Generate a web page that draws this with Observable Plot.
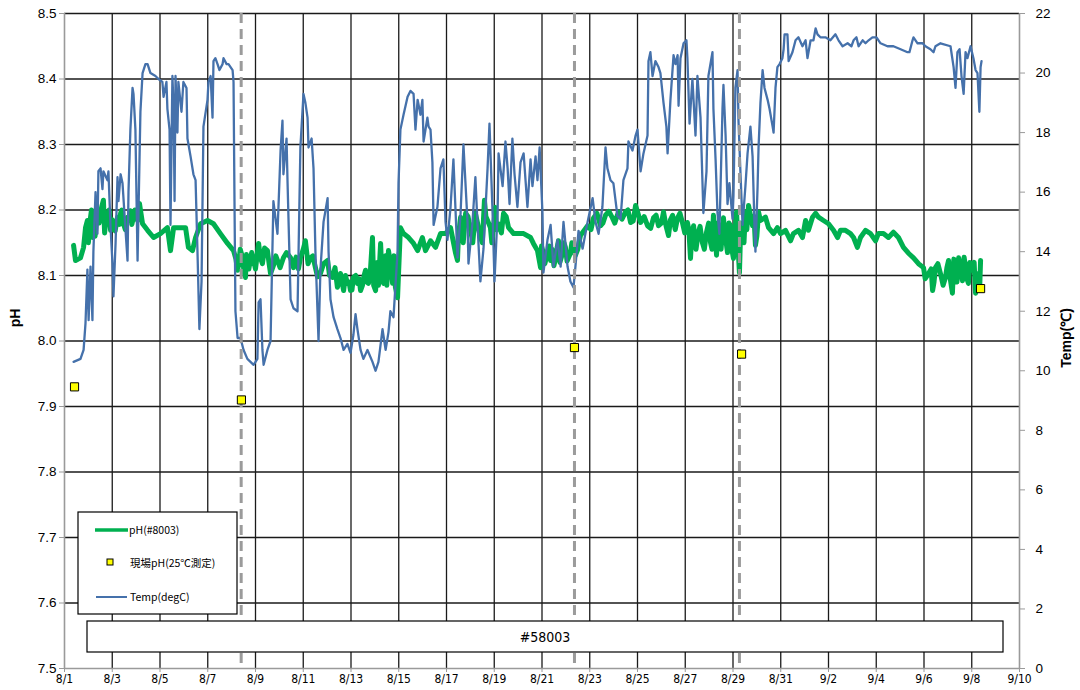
<!DOCTYPE html>
<html>
<head>
<meta charset="utf-8">
<script src="https://cdn.jsdelivr.net/npm/d3@7"></script>
<script src="https://cdn.jsdelivr.net/npm/@observablehq/plot@0.6"></script>
<style>
  html, body { margin: 0; padding: 0; background: #fff; }
  #chart { width: 1080px; height: 690px; }
</style>
</head>
<body>
<div id="chart"></div>
<script>
// ---- data (x = days since 8/1 00:00) ----
const xTickLabels = ["8/1","8/3","8/5","8/7","8/9","8/11","8/13","8/15","8/17","8/19","8/21","8/23","8/25","8/27","8/29","8/31","9/2","9/4","9/6","9/8","9/10"];
const xTickDays = [0,2,4,6,8,10,12,14,16,18,20,22,24,26,28,30,32,34,36,38,40];
const phTicks = [7.5,7.6,7.7,7.8,7.9,8.0,8.1,8.2,8.3,8.4,8.5];
const tempTicks = [0,2,4,6,8,10,12,14,16,18,20,22];

// pH(#8003) sensor series [day, pH] (main trace)
const phMain = [[0.38,8.146],[0.46,8.123],[0.67,8.127],[0.80,8.143],[0.88,8.173],[0.96,8.184],[1.09,8.189],[1.17,8.158],[1.21,8.179],[1.38,8.199],[1.51,8.195],[1.63,8.215],[1.72,8.179],[1.80,8.189],[1.93,8.169],[2.05,8.173],[2.22,8.189],[2.35,8.195],[2.47,8.179],[2.64,8.189],[2.76,8.199],[2.89,8.189],[3.06,8.184],[3.14,8.210],[3.27,8.179],[3.48,8.169],[3.73,8.158],[4.02,8.164],[4.31,8.173],[4.44,8.138],[4.57,8.173],[4.86,8.173],[5.07,8.173],[5.19,8.143],[5.36,8.138],[5.49,8.158],[5.70,8.179],[5.99,8.184],[6.24,8.179],[6.53,8.164],[6.83,8.149],[7.08,8.138],[7.25,8.108],[7.46,8.127],[7.58,8.097],[7.66,8.123],[7.92,8.123],[8.13,8.149],[8.29,8.118],[8.50,8.138],[8.63,8.103],[8.92,8.123],[9.17,8.127],[9.47,8.127],[9.59,8.112],[9.88,8.127],[10.09,8.153],[10.30,8.127],[10.51,8.112],[10.72,8.103],[11.02,8.123],[11.23,8.097],[11.43,8.082],[11.56,8.103],[11.69,8.077],[11.85,8.088],[11.98,8.077],[12.10,8.097],[12.27,8.088],[12.40,8.077],[12.61,8.108],[12.73,8.088],[12.90,8.158],[13.03,8.077],[13.24,8.149],[13.36,8.088],[13.57,8.138],[13.74,8.088],[13.86,8.082],[13.95,8.066],[14.07,8.173],[14.20,8.164],[14.41,8.158],[14.62,8.149],[14.79,8.138],[14.99,8.158],[15.12,8.138],[15.33,8.153],[15.54,8.143],[15.75,8.164],[15.96,8.164],[16.17,8.173],[16.38,8.134],[16.46,8.123],[16.59,8.189],[16.80,8.195],[17.01,8.169],[17.21,8.195],[17.42,8.158],[17.59,8.215],[17.72,8.184],[17.84,8.173],[18.05,8.204],[18.18,8.179],[18.39,8.195],[18.60,8.173],[18.81,8.164],[19.02,8.164],[19.23,8.164],[19.52,8.158],[19.64,8.149],[19.81,8.138],[19.94,8.112],[20.06,8.134],[20.23,8.134],[20.36,8.123],[20.57,8.127],[20.69,8.153],[20.86,8.134],[20.98,8.143],[21.19,8.134],[21.40,8.131],[21.61,8.161],[21.91,8.176],[22.16,8.188],[22.45,8.176],[22.66,8.192],[22.95,8.188],[23.20,8.197],[23.50,8.197],[23.71,8.181],[23.92,8.207],[24.13,8.181],[24.42,8.176],[24.67,8.188],[24.88,8.176],[25.09,8.197],[25.30,8.161],[25.47,8.192],[25.68,8.188],[25.88,8.181],[26.09,8.181],[26.22,8.126],[26.35,8.176],[26.55,8.166],[26.72,8.150],[26.89,8.166],[27.06,8.150],[27.18,8.192],[27.31,8.131],[27.43,8.166],[27.60,8.188],[27.77,8.135],[27.90,8.176],[28.02,8.126],[28.15,8.197],[28.27,8.104],[28.40,8.166],[28.52,8.197],[28.65,8.207],[28.82,8.176],[28.94,8.146],[29.07,8.197],[29.15,8.184],[29.36,8.189],[29.49,8.173],[29.70,8.164],[29.86,8.173],[29.99,8.164],[30.20,8.169],[30.41,8.153],[30.53,8.164],[30.74,8.169],[30.91,8.158],[31.04,8.184],[31.16,8.169],[31.33,8.189],[31.46,8.195],[31.58,8.189],[31.79,8.184],[32.00,8.179],[32.21,8.169],[32.38,8.158],[32.50,8.169],[32.71,8.169],[32.92,8.164],[33.05,8.158],[33.21,8.143],[33.34,8.158],[33.55,8.169],[33.76,8.164],[33.97,8.153],[34.09,8.164],[34.30,8.164],[34.51,8.158],[34.72,8.166],[34.93,8.158],[35.14,8.143],[35.35,8.134],[35.56,8.127],[35.77,8.118],[35.98,8.112],[36.19,8.103],[36.36,8.077],[36.48,8.112],[36.69,8.103],[36.90,8.097],[37.03,8.123],[37.19,8.073],[37.32,8.103],[37.45,8.127],[37.61,8.092],[37.74,8.112],[37.86,8.088],[38.03,8.108],[38.16,8.073],[38.28,8.103],[38.37,8.123]];
// pH(#8003) additional readings in the noisy stretches [day, pH]
const phDetail = [[1.00,8.150],[1.13,8.200],[1.28,8.160],[1.45,8.180],[1.56,8.205],[1.68,8.165],[1.87,8.200],[2.00,8.185],[2.12,8.168],[2.30,8.178],[2.40,8.200],[2.55,8.170],[2.70,8.185],[2.82,8.178],[2.95,8.200],[7.18,8.125],[7.30,8.118],[7.36,8.140],[7.52,8.105],[7.62,8.132],[7.72,8.110],[7.84,8.135],[8.00,8.110],[8.20,8.128],[8.38,8.142],[8.57,8.118],[8.75,8.115],[8.85,8.130],[9.03,8.112],[9.30,8.135],[9.70,8.128],[9.80,8.110],[10.00,8.140],[10.20,8.118],[10.40,8.130],[10.60,8.098],[10.85,8.118],[11.10,8.100],[11.33,8.112],[11.50,8.090],[11.62,8.092],[11.77,8.100],[11.92,8.090],[12.04,8.078],[12.20,8.100],[12.34,8.095],[12.48,8.085],[12.55,8.100],[12.67,8.090],[12.80,8.100],[12.95,8.085],[13.10,8.120],[13.15,8.085],[13.30,8.095],[13.45,8.130],[13.50,8.085],[13.65,8.120],[13.80,8.130],[13.90,8.075],[16.50,8.160],[16.70,8.150],[16.90,8.190],[17.10,8.150],[17.30,8.180],[17.50,8.150],[17.65,8.190],[17.90,8.150],[18.10,8.170],[18.30,8.165],[18.50,8.190],[19.98,8.145],[20.12,8.118],[20.30,8.145],[20.42,8.140],[20.50,8.115],[20.62,8.140],[20.75,8.120],[20.92,8.150],[21.05,8.122],[21.25,8.150],[21.50,8.140],[22.05,8.170],[22.30,8.195],[22.55,8.180],[22.80,8.198],[23.05,8.180],[23.35,8.186],[23.60,8.200],[23.82,8.183],[24.02,8.195],[24.28,8.190],[24.55,8.172],[24.78,8.192],[25.00,8.180],[25.20,8.175],[25.38,8.185],[25.58,8.170],[25.78,8.195],[25.98,8.165],[26.15,8.170],[26.28,8.165],[26.45,8.140],[26.62,8.175],[26.80,8.140],[26.98,8.180],[27.12,8.140],[27.24,8.170],[27.37,8.180],[27.50,8.140],[27.66,8.165],[27.83,8.180],[27.95,8.140],[28.08,8.170],[28.20,8.150],[28.33,8.180],[28.46,8.150],[28.58,8.170],[28.88,8.190],[29.00,8.160],[36.05,8.095],[36.30,8.110],[36.42,8.090],[36.58,8.118],[36.80,8.085],[36.96,8.112],[37.10,8.095],[37.25,8.125],[37.38,8.090],[37.52,8.115],[37.68,8.128],[37.80,8.095],[37.92,8.120],[38.10,8.120],[38.22,8.080],[38.33,8.078]];

// Temp(degC) series [day, °C]
const tempSeries = [[0.38,10.3],[0.67,10.4],[0.80,10.7],[0.88,11.6],[0.96,13.4],[1.01,11.7],[1.09,13.5],[1.17,11.7],[1.21,14.0],[1.30,16.0],[1.38,14.6],[1.42,16.7],[1.51,16.8],[1.59,16.1],[1.63,16.7],[1.80,16.4],[1.84,16.7],[1.93,14.8],[2.01,13.6],[2.05,12.5],[2.14,14.3],[2.22,16.5],[2.26,15.7],[2.35,16.6],[2.43,16.3],[2.55,14.8],[2.64,13.7],[2.68,16.0],[2.76,18.1],[2.85,19.5],[2.89,19.3],[2.97,18.1],[3.06,13.7],[3.18,18.7],[3.27,20.0],[3.39,20.3],[3.48,20.3],[3.60,20.0],[3.81,19.9],[3.94,19.8],[4.10,19.7],[4.15,19.2],[4.27,19.7],[4.31,18.8],[4.40,18.1],[4.44,14.9],[4.52,19.9],[4.57,18.8],[4.61,15.7],[4.65,19.9],[4.73,18.0],[4.77,19.7],[4.90,18.7],[4.98,19.7],[5.11,19.5],[5.15,17.8],[5.28,17.2],[5.40,16.6],[5.49,16.4],[5.57,14.0],[5.65,11.4],[5.74,13.0],[5.82,18.2],[5.99,19.1],[6.03,19.7],[6.12,19.9],[6.20,18.5],[6.24,20.4],[6.32,20.5],[6.41,20.3],[6.49,20.1],[6.62,20.3],[6.66,20.5],[6.79,20.3],[6.87,20.3],[7.04,20.1],[7.08,19.7],[7.12,15.7],[7.16,12.0],[7.25,11.1],[7.37,11.1],[7.50,10.7],[7.66,10.4],[7.79,10.3],[7.92,10.2],[8.08,10.4],[8.13,12.3],[8.21,12.4],[8.29,10.7],[8.34,10.2],[8.50,10.7],[8.63,11.0],[8.75,15.7],[8.92,14.6],[9.05,17.4],[9.13,18.4],[9.17,16.6],[9.30,17.8],[9.34,16.4],[9.47,12.4],[9.59,12.1],[9.76,12.0],[9.88,17.5],[10.01,19.3],[10.09,19.0],[10.18,18.5],[10.22,17.5],[10.35,17.8],[10.43,16.8],[10.51,14.0],[10.64,11.0],[10.72,13.4],[10.85,15.0],[11.02,15.8],[11.06,14.0],[11.14,12.4],[11.27,11.8],[11.43,11.4],[11.56,11.1],[11.69,10.7],[11.85,10.9],[11.98,10.6],[12.10,11.2],[12.19,11.9],[12.27,11.4],[12.40,10.7],[12.52,10.4],[12.69,10.7],[12.90,10.3],[13.03,10.0],[13.15,10.3],[13.32,11.4],[13.45,10.7],[13.57,11.3],[13.65,12.0],[13.78,11.8],[13.95,14.0],[13.99,16.3],[14.07,18.1],[14.20,18.6],[14.37,19.2],[14.49,19.4],[14.62,19.3],[14.70,18.1],[14.79,19.1],[14.91,18.6],[14.99,19.1],[15.04,17.7],[15.20,18.5],[15.25,18.2],[15.33,18.1],[15.41,17.0],[15.46,14.9],[15.62,15.5],[15.75,16.8],[15.87,17.1],[15.96,15.0],[16.04,14.4],[16.17,15.5],[16.29,17.1],[16.46,13.8],[16.59,15.3],[16.71,17.6],[16.88,15.0],[16.92,13.6],[17.09,15.0],[17.21,16.5],[17.30,14.9],[17.42,13.0],[17.55,14.1],[17.72,16.8],[17.80,18.3],[17.93,15.3],[18.01,13.0],[18.14,15.3],[18.18,17.3],[18.35,16.2],[18.47,17.7],[18.56,16.8],[18.64,15.6],[18.76,17.8],[18.85,16.6],[18.97,15.5],[19.10,17.0],[19.23,17.3],[19.39,15.5],[19.52,17.1],[19.60,16.2],[19.73,17.2],[19.81,16.4],[19.90,17.5],[20.02,15.3],[20.06,13.3],[20.23,14.4],[20.36,14.9],[20.48,13.5],[20.65,14.4],[20.78,13.5],[20.90,15.0],[21.07,13.5],[21.19,13.0],[21.32,12.8],[21.40,13.5],[21.53,14.7],[21.70,14.1],[21.91,15.0],[22.12,15.8],[22.24,15.0],[22.37,14.6],[22.53,15.5],[22.66,17.5],[22.74,16.8],[22.87,16.4],[22.99,16.3],[23.16,15.2],[23.29,15.1],[23.41,16.4],[23.58,16.8],[23.62,17.7],[23.79,17.4],[23.92,17.9],[24.00,18.1],[24.13,16.7],[24.25,17.3],[24.42,17.9],[24.46,20.4],[24.54,20.7],[24.63,19.9],[24.75,20.4],[24.88,20.2],[24.96,20.0],[25.09,19.0],[25.21,18.2],[25.26,17.3],[25.38,19.1],[25.51,20.6],[25.59,20.3],[25.68,20.6],[25.72,18.9],[25.80,20.5],[25.93,21.0],[26.05,21.1],[26.09,20.5],[26.18,18.3],[26.30,19.8],[26.43,17.9],[26.51,19.9],[26.64,18.5],[26.76,15.3],[26.89,16.7],[26.97,19.9],[27.14,20.7],[27.18,18.8],[27.27,17.1],[27.35,15.3],[27.43,14.6],[27.56,18.8],[27.60,19.6],[27.69,17.9],[27.77,15.6],[27.85,16.3],[27.98,15.1],[28.02,15.9],[28.10,19.5],[28.19,20.1],[28.23,18.4],[28.31,16.7],[28.40,14.9],[28.52,16.2],[28.61,17.3],[28.73,18.2],[28.82,17.2],[28.90,14.9],[28.94,14.0],[29.03,16.2],[29.07,17.5],[29.15,19.0],[29.24,20.1],[29.32,19.5],[29.45,19.1],[29.53,18.8],[29.66,18.2],[29.70,18.0],[29.78,19.5],[29.86,20.2],[29.95,20.3],[30.07,20.5],[30.12,20.8],[30.16,21.3],[30.28,21.3],[30.33,20.4],[30.49,20.7],[30.62,21.1],[30.74,21.2],[30.91,20.9],[31.04,21.1],[31.12,20.5],[31.25,21.1],[31.37,21.1],[31.46,21.5],[31.54,21.3],[31.66,21.2],[31.87,21.2],[32.08,21.1],[32.29,21.3],[32.42,21.1],[32.59,20.9],[32.80,21.0],[32.96,20.9],[33.05,21.1],[33.17,21.2],[33.26,20.9],[33.43,21.1],[33.55,21.0],[33.68,21.1],[33.84,21.2],[34.01,21.2],[34.18,21.0],[34.47,20.9],[34.72,20.9],[35.02,20.8],[35.31,20.7],[35.39,20.7],[35.52,21.1],[35.56,21.2],[35.73,21.0],[35.94,21.0],[36.06,20.9],[36.27,20.8],[36.40,20.7],[36.48,20.9],[36.69,21.0],[37.11,20.9],[37.24,20.2],[37.32,19.5],[37.40,20.7],[37.49,20.8],[37.57,19.9],[37.66,19.3],[37.74,20.7],[37.82,20.5],[37.95,20.9],[38.07,20.5],[38.16,20.1],[38.24,20.0],[38.32,18.7],[38.37,20.2],[38.41,20.4]];

// 現場pH (25℃測定) field samples
const fieldDays = [0.42, 7.41, 21.36, 28.36, 38.37];
const fieldPH = [7.93, 7.91, 7.99, 7.98, 8.08];

// sampling events (dashed vertical lines)
const eventDays = [7.40, 21.36, 28.27];

// ---- chart ----
const tMin = 0, tMax = 22, pMin = 7.5, pMax = 8.5;
const toY = t => pMin + (t - tMin) * (pMax - pMin) / (tMax - tMin);
const fromY = v => Math.round(tMin + (v - pMin) * (tMax - tMin) / (pMax - pMin));
const phSeries = [...phMain, ...phDetail].sort((a, b) => a[0] - b[0]);
const fieldData = fieldDays.map((d, i) => ({d, ph: fieldPH[i]}));

const tickFont = "'Liberation Sans', Arial, sans-serif";
const narrowFont = "'DejaVu Sans Condensed', 'DejaVu Sans', sans-serif";
const blue = "#4571ab", green = "#00b050";

const chart = Plot.plot({
  width: 1080,
  height: 690,
  marginLeft: 64,
  marginRight: 61,
  marginTop: 13,
  marginBottom: 22,
  style: {background: "white", fontFamily: tickFont, color: "#000"},
  x: {domain: [0, 40], axis: null},
  y: {domain: [pMin, pMax], axis: null},
  marks: [
    Plot.ruleY(phTicks.filter(v => v > pMin), {stroke: "#1a1a1a", strokeWidth: 1.3}),
    Plot.ruleX(xTickDays.filter(d => d > 0 && d < 40), {stroke: "#1a1a1a", strokeWidth: 1.3}),
    Plot.ruleX([0, 40], {stroke: "#9a9a9a", strokeWidth: 1.6}),
    Plot.ruleY([pMin], {stroke: "#9a9a9a", strokeWidth: 1.6}),
    Plot.axisY({anchor: "left", ticks: phTicks, tickFormat: d => d.toFixed(1), tickSize: 5, tickPadding: 3, fontSize: 13.5, stroke: "#9a9a9a", fill: "#000", label: null}),
    Plot.axisY({anchor: "right", ticks: tempTicks.map(toY), tickFormat: v => String(fromY(v)), tickSize: 5, tickPadding: 11, fontSize: 13.5, stroke: "#9a9a9a", fill: "#000", label: null}),
    Plot.axisX({anchor: "bottom", ticks: xTickDays, tickFormat: d => xTickLabels[xTickDays.indexOf(d)], tickSize: 4, tickPadding: 2, fontSize: 12, fontFamily: narrowFont, stroke: "#9a9a9a", fill: "#000", label: null}),
    Plot.line(phSeries, {x: d => d[0], y: d => d[1], stroke: green, strokeWidth: 5, strokeLinejoin: "round"}),
    Plot.line(tempSeries, {x: d => d[0], y: d => toY(d[1]), stroke: blue, strokeWidth: 2.3, strokeLinejoin: "round"}),
    Plot.ruleX(eventDays, {stroke: "#9b9b9b", strokeWidth: 3, strokeDasharray: "10,6"}),
    Plot.dot(fieldData, {x: "d", y: "ph", symbol: "square", r: 4.6, fill: "#ffff00", stroke: "#000", strokeWidth: 1})
  ]
});

document.getElementById("chart").appendChild(chart);

// ---- overlay: axis titles, legend, station box ----
const svg = d3.select(chart);
svg.append("text")
  .attr("transform", "translate(20,318) rotate(-90)")
  .attr("text-anchor", "middle")
  .attr("font-family", tickFont).attr("font-weight", "bold").attr("font-size", 14)
  .text("pH");
svg.append("text")
  .attr("transform", "translate(1071,338) rotate(-90)")
  .attr("text-anchor", "middle")
  .attr("font-family", tickFont).attr("font-weight", "bold").attr("font-size", 14)
  .text("Temp(℃)");

const lg = svg.append("g")
  .attr("font-family", "'Noto Sans CJK JP', sans-serif")
  .attr("font-size", 10.5)
  .attr("text-anchor", "start");
lg.append("rect").attr("x", 78).attr("y", 512).attr("width", 159).attr("height", 102)
  .attr("fill", "#fff").attr("stroke", "#000").attr("stroke-width", 1.2);
lg.append("line").attr("x1", 95).attr("x2", 128).attr("y1", 530).attr("y2", 530)
  .attr("stroke", green).attr("stroke-width", 3.5);
lg.append("text").attr("x", 129).attr("y", 530).attr("dy", "0.35em").attr("text-anchor", "start").text("pH(#8003)");
lg.append("rect").attr("x", 107).attr("y", 559).attr("width", 6).attr("height", 6)
  .attr("fill", "#ffff00").attr("stroke", "#000").attr("stroke-width", 1);
lg.append("text").attr("x", 130).attr("y", 563).attr("dy", "0.35em").attr("text-anchor", "start").text("現場pH(25℃測定)");
lg.append("line").attr("x1", 96).attr("x2", 127).attr("y1", 597).attr("y2", 597)
  .attr("stroke", blue).attr("stroke-width", 2);
lg.append("text").attr("x", 130).attr("y", 597).attr("dy", "0.35em").attr("text-anchor", "start").text("Temp(degC)");

const box = svg.append("g");
box.append("rect").attr("x", 87).attr("y", 621).attr("width", 916).attr("height", 31)
  .attr("fill", "#fff").attr("stroke", "#000").attr("stroke-width", 1.2);
box.append("text").attr("x", 545).attr("y", 637).attr("dy", "0.35em").attr("text-anchor", "middle")
  .attr("font-family", narrowFont).attr("font-size", 14).text("#58003");
</script>
</body>
</html>
